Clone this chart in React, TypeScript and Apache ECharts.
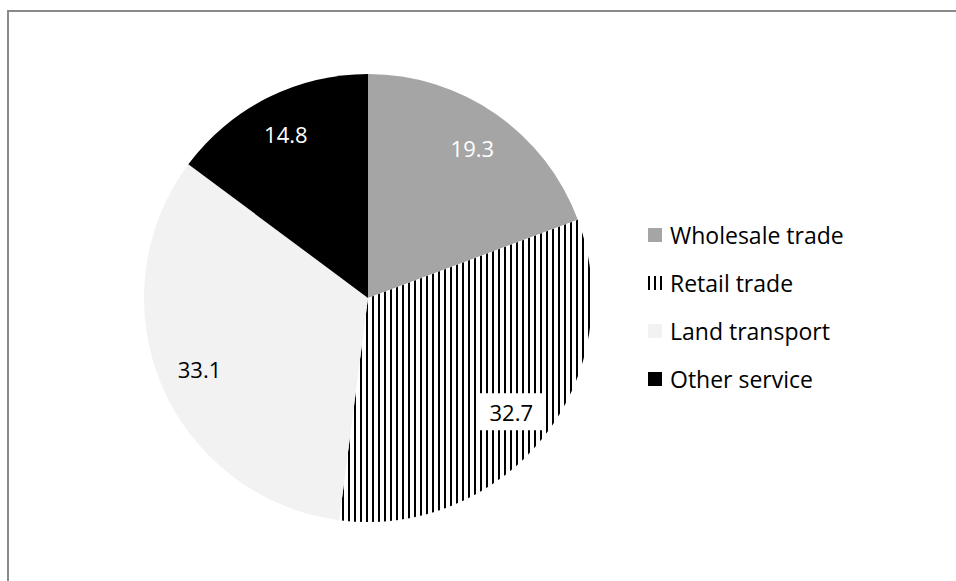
import React, { useEffect, useRef } from "react";
import * as echarts from "echarts";

const categories = ["Wholesale trade", "Retail trade", "Land transport", "Other service"];
const values = [19.3, 32.7, 33.1, 14.8];
const sliceColors = ["#a5a5a5", "#ffffff", "#f2f2f2", "#000000"];
const labelColors = ["#ffffff", "#000000", "#000000", "#ffffff"];

const FONT = "'Open Sans', 'Noto Sans', sans-serif";

export default function App() {
  const ref = useRef<HTMLDivElement>(null);
  useEffect(() => {
    if (!ref.current) return;
    const chart = echarts.init(ref.current, null, { renderer: "svg" });
    const stripe = {
      symbol: "rect",
      symbolSize: 1,
      color: "#000000",
      dashArrayX: [1.5, 3.5],
      dashArrayY: [5, 0],
      rotation: 0,
    };
    const mainData = categories.map((name, i) => ({
      name,
      value: values[i],
      itemStyle: i === 1 ? { color: sliceColors[i], decal: stripe } : { color: sliceColors[i] },
    }));
    const labelData = categories.map((name, i) => ({
      name,
      value: values[i],
      label: i === 1
        ? { color: labelColors[i], backgroundColor: "#ffffff", padding: [8, 10, 7, 10] }
        : { color: labelColors[i] },
    }));
    chart.setOption({
      animation: false,
      backgroundColor: "#ffffff",
      graphic: [
        {
          type: "rect",
          shape: { x: 8, y: 11, width: 1200, height: 1000 },
          style: { fill: "none", stroke: "#898989", lineWidth: 2 },
          silent: true,
          z: -1,
        },
      ],
      legend: {
        data: categories,
        orient: "vertical",
        left: 648,
        top: 223,
        padding: 0,
        itemWidth: 14,
        itemHeight: 14,
        itemGap: 24,
        icon: "rect",
        selectedMode: false,
        textStyle: { fontFamily: FONT, fontSize: 23, color: "#000", lineHeight: 24, padding: [0, 0, 0, 3] },
      },
      series: [
        {
          type: "pie",
          center: [368, 298],
          radius: [0, 224],
          startAngle: 90,
          clockwise: true,
          silent: true,
          label: { show: false },
          labelLine: { show: false },
          itemStyle: { borderWidth: 0 },
          emphasis: { disabled: true },
          data: mainData,
        },
        {
          type: "pie",
          center: [368, 298],
          radius: [136, 224],
          startAngle: 90,
          clockwise: true,
          silent: true,
          legendHoverLink: false,
          itemStyle: { color: "rgba(0,0,0,0)", borderWidth: 0 },
          label: {
            show: true,
            position: "inside",
            formatter: "{c}",
            fontFamily: FONT,
            fontSize: 22,
          },
          labelLine: { show: false },
          emphasis: { disabled: true },
          data: labelData,
        },
      ],
    });
    return () => chart.dispose();
  }, []);
  return (
    <div
      ref={ref}
      style={{ position: "absolute", left: 0, top: 0, width: 956, height: 581, overflow: "hidden" }}
    />
  );
}
